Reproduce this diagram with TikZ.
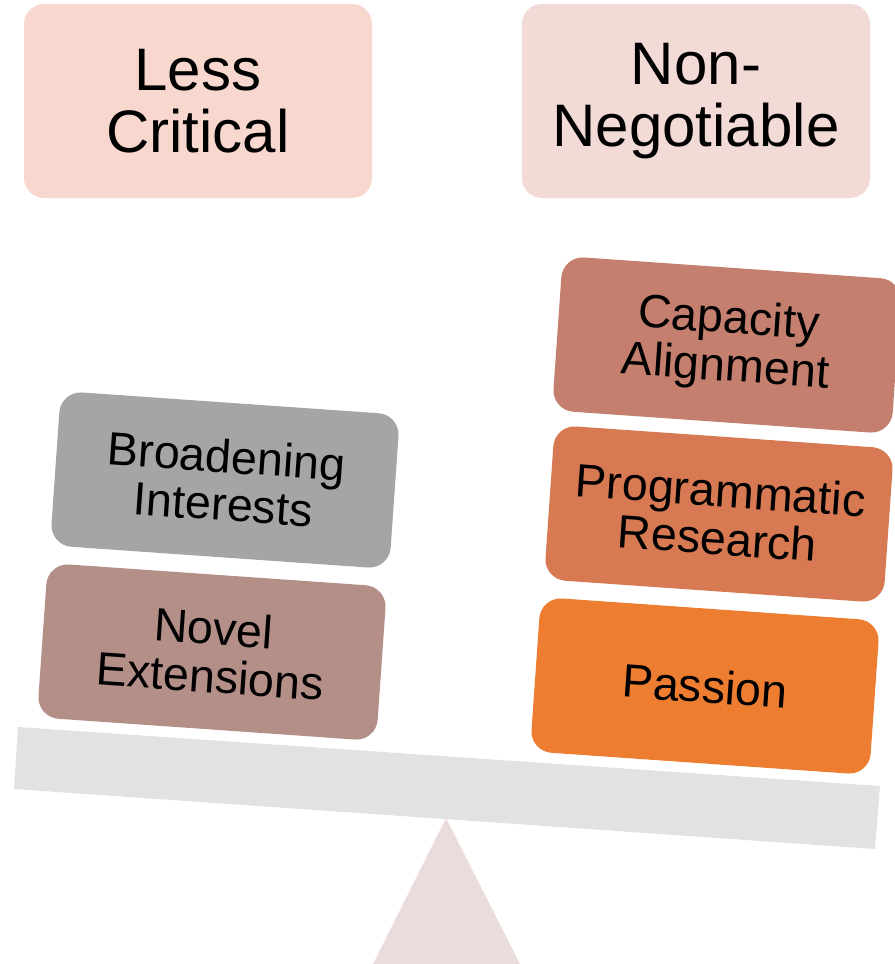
\documentclass[tikz,border=0pt]{standalone}
\usepackage{fontspec}
\setmainfont{Liberation Sans}
\definecolor{lesspink}{HTML}{F8D8CE}
\definecolor{nonpink}{HTML}{F2DAD6}
\definecolor{broadgray}{HTML}{A5A5A5}
\definecolor{novelmauve}{HTML}{B38F88}
\definecolor{capbrown}{HTML}{C47F6F}
\definecolor{progrust}{HTML}{D77A53}
\definecolor{passorange}{HTML}{ED7D31}
\definecolor{beamgray}{HTML}{E2E2E2}
\definecolor{pivotpink}{HTML}{E9DCDB}

\begin{document}
\begin{tikzpicture}[x=0.75pt, y=0.75pt, yscale=-1,
  head/.style={rounded corners=15pt, minimum width=261pt, minimum height=145.5pt,
    align=center, inner sep=0pt, font=\fontsize{45}{47}\selectfont},
  brick/.style={rounded corners=16pt, minimum width=255pt, minimum height=116pt,
    align=center, inner sep=0pt, rotate=-4, font=\fontsize{35}{36}\selectfont}]
\useasboundingbox (0,0) rectangle (894,964);
% pivot and tilted beam
\fill[pivotpink] (446,818) -- (520,964) -- (373,964) -- cycle;
\fill[beamgray] (18,727) -- (880,786) -- (875,849) -- (14,789) -- cycle;
% headings
\node[head, fill=lesspink] (less) at (198,101) {Less\\Critical};
\node[head, fill=nonpink] (nonneg) at (696,101) {Non-\\Negotiable};
% left pan
\node[brick, fill=broadgray] (broad) at (225,480) {Broadening\\Interests};
\node[brick, fill=novelmauve] (novel) at (212,652) {Novel\\Extensions};
% right pan
\node[brick, fill=capbrown] (capacity) at (727,345) {Capacity\\Alignment};
\node[brick, fill=progrust] (program) at (719,514) {Programmatic\\Research};
\node[brick, fill=passorange] (passion) at (705,686) {Passion};
\end{tikzpicture}
\end{document}
